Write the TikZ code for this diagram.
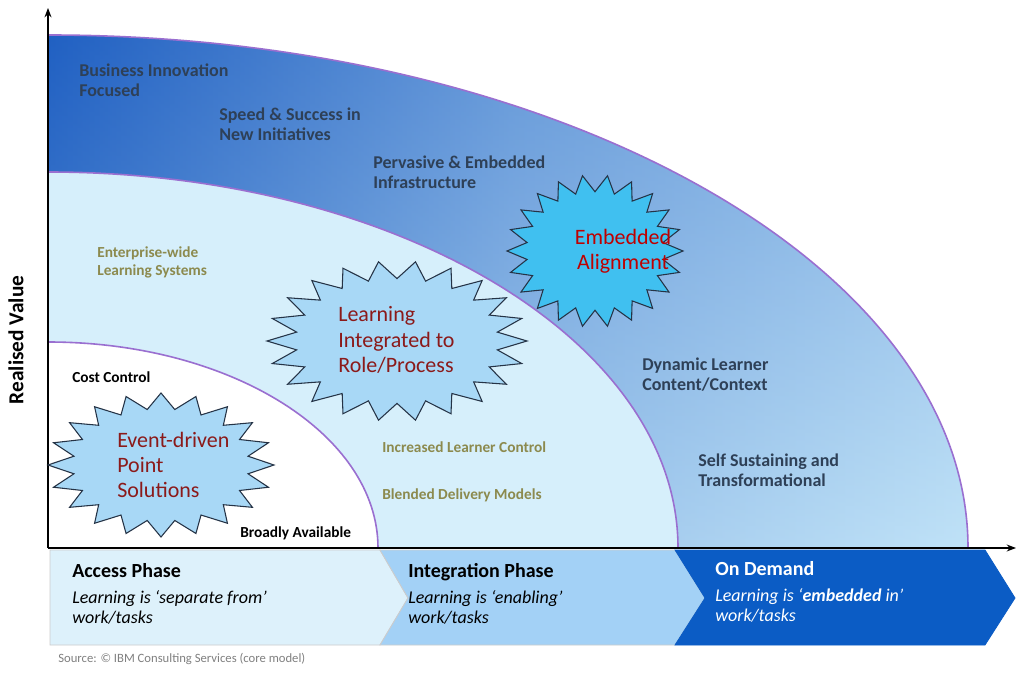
\documentclass[tikz,border=0pt]{standalone}
\usepackage{fontspec}
\setmainfont{Carlito}
\usetikzlibrary{arrows.meta,calc}
\definecolor{navy}{HTML}{2E4057}
\definecolor{olive}{HTML}{8C8A4E}
\definecolor{dred}{HTML}{8B1A1A}
\definecolor{rimc}{HTML}{9A6FD0}
\definecolor{odblue}{HTML}{0B5CC5}
\definecolor{darkb}{HTML}{1F5FC2}
\definecolor{lightb}{HTML}{C2E4F8}
\definecolor{midc}{HTML}{D6EFFB}
\definecolor{burstc}{HTML}{A8D8F6}
\definecolor{burste}{HTML}{40C0F0}
\definecolor{intc}{HTML}{A3D1F6}
\definecolor{accc}{HTML}{DDF1FB}
\tikzset{
  rim/.style={draw=rimc,line width=1.2pt},
  lab/.style={anchor=north west,align=left,font=\fontsize{13.5}{14.5}\selectfont\bfseries,text=navy,inner sep=0pt},
  olab/.style={anchor=north west,align=left,font=\fontsize{11.5}{14}\selectfont\bfseries,text=olive,inner sep=0pt},
  klab/.style={anchor=north west,font=\fontsize{11.5}{13}\selectfont\bfseries,text=black,inner sep=0pt},
  star/.style={draw=navy!80!black,line width=0.8pt},
  stxt/.style={align=left,font=\fontsize{16.5}{19}\selectfont,text=dred,inner sep=0pt},
  phase/.style={draw=gray!40,line width=0.6pt},
  ptitle/.style={anchor=north west,font=\fontsize{15}{16}\selectfont\bfseries,inner sep=0pt},
  psub/.style={anchor=north west,align=left,font=\fontsize{13.5}{15.5}\selectfont\itshape,inner sep=0pt},
  axis/.style={line width=1pt,-{Stealth[length=7pt]}}
}
\newcommand\burst[6]{% x y rx ry n fill
  \filldraw[star,fill=#6] ([shift={(#1,#2)}]0:#3 and #4)
  \foreach \i [evaluate=\i as \a using \i*180/#5, evaluate=\i as \f using {ifthenelse(mod(\i,2)==0,1,0.78)}] in {1,...,\numexpr2*#5\relax} { -- ([shift={(#1,#2)}]\a:{\f*#3} and {\f*#4}) } -- cycle;}
\begin{document}
\begin{tikzpicture}[x=0.75pt,y=-0.75pt]
\fill[white] (0,0) rectangle (1024,673);
\useasboundingbox (0,0) rectangle (1024,673);
% outer region
\begin{scope}
\clip (48,548) -- (48,35) arc(-90:0:920 and 513) -- cycle;
\shade[left color=darkb, right color=lightb,middle color=darkb!35!lightb] (48,20) rectangle (980,560);
\shade[top color=darkb, bottom color=lightb,opacity=0.35] (48,20) rectangle (980,560);
\end{scope}
\draw[rim] (48,35) arc(-90:0:920 and 513);
% middle region
\fill[midc] (48,548) -- (48,172) arc(-90:0:630 and 376) -- cycle;
\draw[rim] (48,172) arc(-90:0:630 and 376);
% inner region
\fill[white] (48,548) -- (48,342) arc(-90:0:330 and 206) -- cycle;
\draw[rim] (48,342) arc(-90:0:330 and 206);
% axes
\coordinate (o) at (48,548);
\coordinate (ytop) at (48,8);
\coordinate (xend) at (1016,548);
\draw[axis] (o) -- (ytop);
\draw[axis] (o) -- (xend);
\node[rotate=90,font=\fontsize{16}{17}\selectfont\bfseries] (yl) at (16,340) {Realised Value};
% phases
\filldraw[phase,fill=accc] (50,550)--(380,550)--(408,598)--(380,645)--(50,645)--cycle;
\filldraw[phase,fill=intc] (380,550)--(675,550)--(705,598)--(675,645)--(380,645)--(408,598)--cycle;
\filldraw[phase,fill=odblue,draw=odblue] (675,550)--(985,550)--(1015,598)--(985,645)--(675,645)--(705,598)--cycle;
\node[ptitle] (p1) at (72,563) {Access Phase};
\node[psub] (p1s) at (72,590) {Learning is ‘separate from’\\work/tasks};
\node[ptitle] (p2) at (408,563) {Integration Phase};
\node[psub] (p2s) at (408,590) {Learning is ‘enabling’\\work/tasks};
\node[ptitle,text=white] (p3) at (715,561) {On Demand};
\node[psub,text=white] (p3s) at (715,588) {Learning is ‘\textbf{embedded} in’\\work/tasks};
\node[anchor=north west,inner sep=0pt,font=\fontsize{9.5}{11}\selectfont,text=gray] (src) at (58,653) {Source: © IBM Consulting Services (core model)};
% bursts
\burst{595}{251}{88}{76}{22}{burste}
\burst{397}{341}{130}{80}{22}{burstc}
\burst{161}{465}{113}{72}{20}{burstc}
\node[stxt,align=center,text=red!75!black] (s3) at (623,251) {Embedded\\Alignment};
\node[stxt,anchor=west] (s2) at (338,340) {Learning\\Integrated to\\Role/Process};
\node[stxt,anchor=west] (s1) at (117,465) {Event-driven\\Point\\Solutions};
% labels
\node[lab] (t1) at (79,64) {Business Innovation\\Focused};
\node[lab] (t2) at (219,108) {Speed \& Success in\\New Initiatives};
\node[lab] (t3) at (373,156) {Pervasive \& Embedded\\Infrastructure};
\node[olab] (t4) at (97,246) {Enterprise-wide\\Learning Systems};
\node[klab] (t5) at (72,371) {Cost Control};
\node[klab] (t6) at (240,526) {Broadly Available};
\node[olab] (t7) at (382,441) {Increased Learner Control};
\node[olab] (t8) at (382,488) {Blended Delivery Models};
\node[lab] (t9) at (642,358) {Dynamic Learner\\Content/Context};
\node[lab] (t10) at (698,454) {Self Sustaining and\\Transformational};
\end{tikzpicture}
\end{document}
